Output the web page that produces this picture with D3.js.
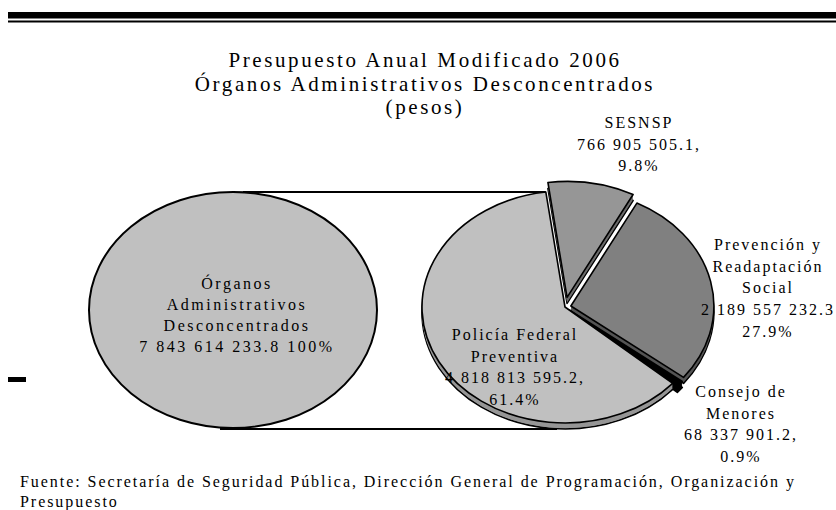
<!DOCTYPE html>
<html>
<head>
<meta charset="utf-8">
<script src="https://cdn.jsdelivr.net/npm/d3@7"></script>
<style>
  body { margin: 0; background: #fff; }
  text { font-family: "Liberation Serif", "Times New Roman", serif; fill: #000; }
</style>
</head>
<body>
<script>
// data (pesos)
const titleLines = ["Presupuesto Anual Modificado 2006", "Órganos Administrativos Desconcentrados", "(pesos)"];
const groupName = ["Órganos", "Administrativos", "Desconcentrados"];
const groupTotal = 7843614233.8;
const sliceNames = [["SESNSP"], ["Prevención y", "Readaptación", "Social"], ["Consejo de", "Menores"], ["Policía Federal", "Preventiva"]];
const sliceValues = [766905505.1, 2189557232.3, 68337901.2, 4818813595.2];
const source = ["Fuente: Secretaría de Seguridad Pública, Dirección General de Programación, Organización y", "Presupuesto"];

// look
const topColors = ["#969696", "#808080", "#000000", "#c0c0c0"];
const sideColors = ["#6a6a6a", "#555555", "#000000", "#969696"];
const explode = [12, 6, 6, 0];
const labelPos = [[639, 128], [768, 250], [741, 397], [515, 340]];
const lineH = 21.7;

let w = 836, h = 510;

const loc = d3.formatLocale({decimal: ".", thousands: " ", grouping: [3], currency: ["", ""]});
const fmt = loc.format(",.1f");
const pct = v => (v / groupTotal * 100).toFixed(1) + "%";

let svg = d3.select("body").append("svg")
    .attr("width", w)
    .attr("height", h);

// rules at the top
svg.append("rect").attr("x", 8).attr("y", 12).attr("width", w - 8).attr("height", 6.5).attr("fill", "#000");
svg.append("rect").attr("x", 8).attr("y", 20.5).attr("width", w - 8).attr("height", 2).attr("fill", "#000");
svg.append("rect").attr("x", 8).attr("y", 377).attr("width", 18).attr("height", 5).attr("fill", "#000");

// title
svg.append("text")
    .attr("text-anchor", "middle")
    .style("font-size", "21px").style("letter-spacing", "2.6px")
    .selectAll("tspan").data(titleLines).join("tspan")
    .attr("x", 425).attr("y", (d, i) => 67 + i * 23.5)
    .text(d => d);

// left ellipse = whole group
const L = {cx: 233, cy: 310, rx: 144, ry: 118};
// right pie
const P = {cx: 565, cy: 307, rx: 143, ry: 116, depth: 6};
const a0 = -7.7 * Math.PI / 180;

let pie = d3.pie().sort(null).startAngle(a0).endAngle(a0 + 2 * Math.PI);
let arcs = pie(sliceValues);
arcs.forEach((a, i) => {
    let mid = (a.startAngle + a.endAngle) / 2;
    a.dx = explode[i] * Math.sin(mid);
    a.dy = -explode[i] * Math.cos(mid) * P.ry / P.rx;
});

// connector lines
let pol = arcs[3];
svg.append("line")
    .attr("x1", L.cx + 10).attr("y1", L.cy - L.ry)
    .attr("x2", P.cx + pol.dx + P.rx * Math.sin(pol.endAngle)).attr("y2", P.cy + pol.dy - P.ry * Math.cos(pol.endAngle))
    .attr("stroke", "#000").attr("stroke-width", 2);
svg.append("line")
    .attr("x1", L.cx - 13).attr("y1", P.cy + P.ry + P.depth)
    .attr("x2", P.cx - 8).attr("y2", P.cy + P.ry + P.depth)
    .attr("stroke", "#000").attr("stroke-width", 2);

svg.append("ellipse")
    .attr("cx", L.cx).attr("cy", L.cy).attr("rx", L.rx).attr("ry", L.ry)
    .attr("fill", "#c0c0c0").attr("stroke", "#000").attr("stroke-width", 2);

let arc = d3.arc().innerRadius(0).outerRadius(P.rx);
let k = P.ry / P.rx;

// pie thickness, then the top face
for (let d = P.depth; d >= 0; d--) {
    svg.append("g").selectAll("path").data(arcs).join("path")
        .attr("transform", a => `translate(${P.cx + a.dx},${P.cy + a.dy + d}) scale(1,${k})`)
        .attr("d", arc)
        .attr("fill", (a, i) => d === 0 ? topColors[i] : sideColors[i])
        .attr("stroke", (d === P.depth || d === 0) ? "#000" : "none")
        .attr("stroke-width", 1.6)
        .attr("stroke-linejoin", "round")
        .attr("vector-effect", "non-scaling-stroke");
}

// left label
svg.append("text")
    .attr("text-anchor", "middle")
    .style("font-size", "16px").style("letter-spacing", "2.5px")
    .selectAll("tspan").data(groupName.concat([fmt(groupTotal) + " 100%"])).join("tspan")
    .attr("x", L.cx + 4).attr("y", (d, i) => 289 + i * 21)
    .text(d => d);

// slice labels
sliceNames.forEach((nm, i) => {
    let v = sliceValues[i];
    let lines = nm.slice();
    lines.push(i === 1 ? fmt(v) : fmt(v) + ",");
    lines.push(pct(v));
    svg.append("text")
        .attr("text-anchor", "middle")
        .style("font-size", "16px").style("letter-spacing", "2px")
        .selectAll("tspan").data(lines).join("tspan")
        .attr("x", labelPos[i][0]).attr("y", (d, j) => labelPos[i][1] + j * lineH)
        .text(d => d);
});

// source note
svg.append("text")
    .style("font-size", "16px").style("letter-spacing", "1.95px")
    .selectAll("tspan").data(source).join("tspan")
    .attr("x", 20).attr("y", (d, i) => 487 + i * 20)
    .text(d => d);
</script>
</body>
</html>
